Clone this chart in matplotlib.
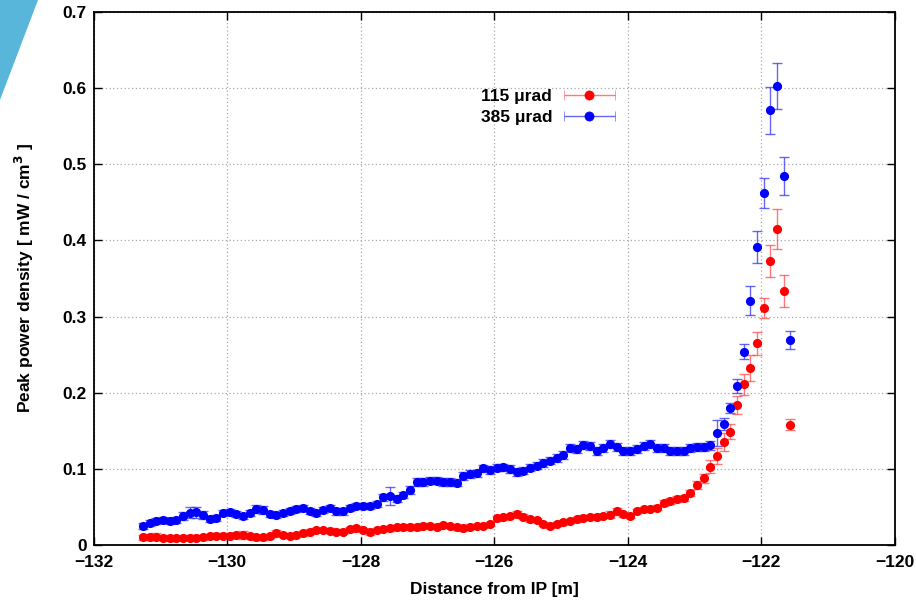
import numpy as np
import matplotlib
matplotlib.use("Agg")
import matplotlib.pyplot as plt
from matplotlib.patches import Polygon
from matplotlib.legend_handler import HandlerErrorbar
from matplotlib.container import ErrorbarContainer

# ---------------- data ----------------
x_start = -131.26
x_step = 0.1
n_points = 98
distance = x_start + x_step * np.arange(n_points)

labels = ["115 \u03bcrad", "385 \u03bcrad"]

red_values = [
    0.0101, 0.0110, 0.0110, 0.0096, 0.0088, 0.0088, 0.0096, 0.0096, 0.0096, 0.0101,
    0.0118, 0.0123, 0.0123, 0.0123, 0.0131, 0.0131, 0.0118, 0.0101, 0.0101, 0.0118,
    0.0153, 0.0131, 0.0118, 0.0131, 0.0153, 0.0175, 0.0197, 0.0197, 0.0188, 0.0175,
    0.0175, 0.0206, 0.0219, 0.0197, 0.0166, 0.0197, 0.0210, 0.0219, 0.0232, 0.0232,
    0.0241, 0.0232, 0.0254, 0.0250, 0.0241, 0.0263, 0.0250, 0.0232, 0.0219, 0.0241,
    0.0250, 0.0250, 0.0276, 0.0350, 0.0364, 0.0381, 0.0407, 0.0372, 0.0337, 0.0329,
    0.0276, 0.0250, 0.0276, 0.0298, 0.0315, 0.0337, 0.0359, 0.0364, 0.0372, 0.0381,
    0.0400, 0.0440, 0.0403, 0.0380, 0.0447, 0.0469, 0.0470, 0.0490, 0.0548, 0.0583,
    0.0600, 0.0620, 0.0680, 0.0788, 0.0876, 0.1030, 0.1170, 0.1350, 0.1490, 0.1840,
    0.2110, 0.2320, 0.2650, 0.3110, 0.3730, 0.4150, 0.3340, 0.1580,
]
red_errors = [
    0.003, 0.003, 0.005, 0.003, 0.003, 0.003, 0.003, 0.003, 0.003, 0.003,
    0.003, 0.003, 0.003, 0.003, 0.003, 0.005, 0.003, 0.003, 0.003, 0.003,
    0.004, 0.003, 0.003, 0.003, 0.003, 0.003, 0.003, 0.003, 0.003, 0.003,
    0.003, 0.003, 0.003, 0.003, 0.003, 0.003, 0.003, 0.003, 0.003, 0.003,
    0.003, 0.003, 0.003, 0.003, 0.003, 0.003, 0.003, 0.003, 0.003, 0.003,
    0.003, 0.003, 0.003, 0.003, 0.003, 0.003, 0.004, 0.003, 0.003, 0.003,
    0.003, 0.003, 0.003, 0.003, 0.003, 0.003, 0.003, 0.003, 0.003, 0.003,
    0.004, 0.004, 0.003, 0.003, 0.003, 0.003, 0.003, 0.003, 0.004, 0.004,
    0.004, 0.004, 0.004, 0.005, 0.006, 0.008, 0.010, 0.012, 0.010, 0.012,
    0.014, 0.017, 0.015, 0.013, 0.021, 0.026, 0.021, 0.007,
]

blue_values = [
    0.0250, 0.0290, 0.0315, 0.0330, 0.0310, 0.0330, 0.0380, 0.0425, 0.0430, 0.0390,
    0.0346, 0.0350, 0.0416, 0.0430, 0.0407, 0.0385, 0.0416, 0.0470, 0.0460, 0.0407,
    0.0390, 0.0425, 0.0450, 0.0470, 0.0480, 0.0450, 0.0416, 0.0460, 0.0480, 0.0440,
    0.0440, 0.0480, 0.0510, 0.0510, 0.0510, 0.0540, 0.0626, 0.0640, 0.0610, 0.0657,
    0.0720, 0.0830, 0.0830, 0.0845, 0.0845, 0.0830, 0.0830, 0.0820, 0.0907, 0.0930,
    0.0940, 0.1007, 0.0986, 0.1016, 0.1020, 0.0999, 0.0955, 0.0977, 0.1016, 0.1042,
    0.1073, 0.1108, 0.1139, 0.1183, 0.1270, 0.1257, 0.1310, 0.1300, 0.1235, 0.1270,
    0.1330, 0.1290, 0.1235, 0.1235, 0.1257, 0.1300, 0.1323, 0.1270, 0.1270, 0.1235,
    0.1235, 0.1235, 0.1270, 0.1290, 0.1290, 0.1310, 0.1470, 0.1590, 0.1800, 0.2090,
    0.2540, 0.3210, 0.3920, 0.4620, 0.5710, 0.6030, 0.4850, 0.2690,
]
blue_errors = [
    0.004, 0.004, 0.004, 0.004, 0.004, 0.004, 0.005, 0.007, 0.007, 0.005,
    0.004, 0.004, 0.004, 0.004, 0.004, 0.004, 0.004, 0.005, 0.005, 0.004,
    0.004, 0.004, 0.004, 0.004, 0.004, 0.004, 0.004, 0.004, 0.004, 0.004,
    0.004, 0.004, 0.004, 0.004, 0.004, 0.004, 0.005, 0.012, 0.005, 0.004,
    0.005, 0.005, 0.005, 0.005, 0.005, 0.005, 0.005, 0.005, 0.005, 0.005,
    0.005, 0.005, 0.005, 0.005, 0.005, 0.005, 0.005, 0.005, 0.005, 0.005,
    0.005, 0.005, 0.005, 0.005, 0.005, 0.005, 0.005, 0.005, 0.005, 0.005,
    0.005, 0.005, 0.005, 0.005, 0.005, 0.005, 0.005, 0.005, 0.005, 0.005,
    0.005, 0.005, 0.005, 0.005, 0.005, 0.006, 0.017, 0.008, 0.007, 0.009,
    0.010, 0.019, 0.021, 0.020, 0.031, 0.030, 0.025, 0.012,
]

x_ticks = [-132, -130, -128, -126, -124, -122, -120]
y_ticks = [0, 0.1, 0.2, 0.3, 0.4, 0.5, 0.6, 0.7]
y_tick_labels = ["0", "0.1", "0.2", "0.3", "0.4", "0.5", "0.6", "0.7"]

# ---------------- style ----------------
plt.rcParams["font.family"] = ["Liberation Sans", "DejaVu Sans"]
plt.rcParams["font.weight"] = "bold"
FS = 12.5

fig = plt.figure(figsize=(9.16, 6.01), dpi=100)
fig.patch.set_facecolor("white")

# decorative slide corner
fig.patches.append(Polygon([(0, 1), (38 / 916, 1), (0, 1 - 100 / 601)], closed=True,
                           transform=fig.transFigure, facecolor="#58b6da",
                           edgecolor="none", zorder=0))

ax = fig.add_axes([93.5 / 916, 56 / 601, 801 / 916, 533 / 601])

series = [
    (red_values, red_errors, "#ff0000", (1.0, 0.25, 0.25, 0.7)),
    (blue_values, blue_errors, "#0000ff", (0.2, 0.2, 0.95, 0.75)),
]
proxies = []
for (vals, errs, col, ecol), lab in zip(series, labels):
    ax.errorbar(distance, vals, yerr=errs, fmt="none", ecolor=ecol,
                elinewidth=1.0, capsize=3.6, capthick=1.0, zorder=2)
    ax.plot(distance, vals, "o", color=col, markersize=6.6, markeredgewidth=0,
            zorder=3)
    # legend proxy with horizontal bar (gnuplot style), not visible in the axes
    p = ax.errorbar([np.nan], [np.nan], xerr=[[1.0], [1.0]], fmt="o", color=col,
                    markersize=6.6, markeredgecolor=col, markeredgewidth=0.5,
                    ecolor=ecol, elinewidth=1.0, capsize=3.6, capthick=1.0)
    proxies.append(p)

ax.set_xlim(-132, -120)
ax.set_ylim(0, 0.7)
ax.set_xticks(x_ticks)
ax.set_yticks(y_ticks)
ax.set_yticklabels(y_tick_labels)

ax.grid(True, color="#a8a8a8", linestyle=(0, (1, 2)), linewidth=0.9)
ax.set_axisbelow(True)
for s in ax.spines.values():
    s.set_linewidth(1.3)
    s.set_color("black")

ax.tick_params(direction="in", top=True, right=True, length=6, width=1.0,
               labelsize=FS)
ax.tick_params(axis="x", pad=7)
ax.tick_params(axis="y", pad=5)
for t in ax.get_xticklabels() + ax.get_yticklabels():
    t.set_fontweight("bold")

ax.set_xlabel("Distance from IP [m]", fontsize=FS, fontweight="bold", labelpad=9)
ax.set_ylabel("Peak power density [ mW / cm$^{\\mathbf{3}}$ ]", fontsize=FS,
              fontweight="bold", labelpad=19)

leg = ax.legend(proxies, labels, loc="center", bbox_to_anchor=(0.567, 0.822),
                frameon=False, markerfirst=False, handlelength=2.9,
                handletextpad=0.7, labelspacing=0.35, borderpad=0,
                prop={"size": FS, "weight": "bold"},
                handler_map={ErrorbarContainer: HandlerErrorbar(xerr_size=1.45)})

fig.savefig("out.png", dpi=100)
